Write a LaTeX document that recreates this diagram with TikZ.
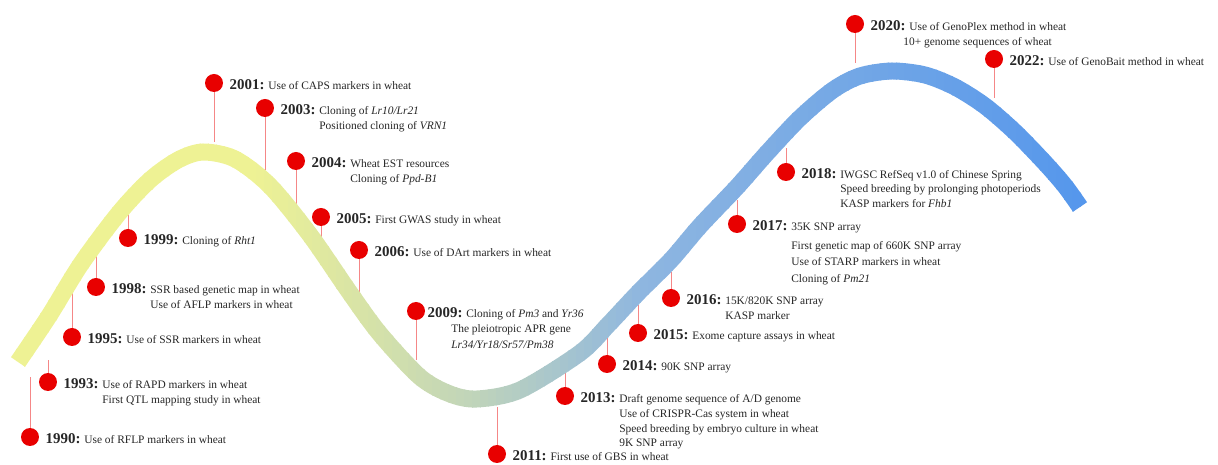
\documentclass[tikz,border=0pt]{standalone}
\usepackage{fontspec}
\setmainfont{Liberation Serif}
\usepackage{tikz}
\usepackage{xcolor}

\definecolor{dotred}{RGB}{232,0,0}
\definecolor{polered}{RGB}{245,135,135}
\definecolor{wyellow}{RGB}{238,242,148}
\definecolor{wgreen}{RGB}{192,212,186}
\definecolor{wblue}{RGB}{142,182,224}
\definecolor{wdeep}{RGB}{84,150,236}

\newcommand{\yr}[1]{{\fontsize{8.5}{10}\selectfont\bfseries #1:}}
\newcommand{\evlines}[1]{\begin{tabular}[t]{@{}l@{}}#1\end{tabular}}
\newcommand{\wavepath}{plot[smooth] coordinates {(18,362) (49,316) (81,264)
    (119,213) (150,180) (178,160) (203,152) (235,159) (270,186) (310,235)
    (350,293) (380,334) (420,377) (450,394) (477,399) (520,390) (580,353)
    (608,325) (638,293) (671,260) (700,226) (737,187) (767,153) (800,118)
    (833,90) (860,76) (892,71) (925,75) (955,87) (985,106) (1015,132)
    (1045,163) (1065,186) (1080,207)}}
% colour of the wave at x = #1
\newcommand{\wavecolour}[1]{%
  \ifdim#1pt<250pt \colorlet{bandc}{wyellow}\else
  \ifdim#1pt<470pt
    \pgfmathsetmacro{\bandmix}{(470-#1)/220*100}\colorlet{bandc}{wyellow!\bandmix!wgreen}\else
  \ifdim#1pt<640pt
    \pgfmathsetmacro{\bandmix}{(640-#1)/170*100}\colorlet{bandc}{wgreen!\bandmix!wblue}\else
    \pgfmathsetmacro{\bandmix}{max(0,(1090-#1)/450*100)}\colorlet{bandc}{wblue!\bandmix!wdeep}\fi\fi\fi}

\begin{document}
\begin{tikzpicture}[x=0.02cm, y=-0.02cm,
    dot/.style={circle, fill=dotred, minimum size=0.36cm, inner sep=0pt},
    pole/.style={draw=polered, line width=0.5pt},
    wave/.style={draw=bandc, line width=0.34cm},
    evt/.style={anchor=base west, inner sep=0pt, xshift=3.4pt, yshift=-3.7pt,
      text=black!85, font=\fontsize{6.5}{8.8}\selectfont}]
  \useasboundingbox (0,0) rectangle (1218,465);

  % dots and their stems
  \foreach \yy/\dx/\dy/\py in {1990/30/437/377, 1993/48/382/360, 1995/72/337/292,
      1998/96/287/253, 1999/128/238/207, 2001/214/83/142, 2003/265/108/170,
      2004/296/161/213, 2005/321/217/245, 2006/359/250/292, 2009/416/311/360,
      2011/497/454/407, 2013/565/396/370, 2014/607/364/337, 2015/638/333/305,
      2016/671/298/272, 2017/737/224/200, 2018/786/172/148, 2020/855/24/63,
      2022/994/59/98}{
    \node[dot] (d\yy) at (\dx,\dy) {};
    \coordinate (p\yy) at (\dx,\py);
    \draw[pole] (d\yy) -- (p\yy);
  }

  % the wave, coloured strip by strip
  \foreach \sx in {0,8,...,1096}{
    \wavecolour{\sx}
    \begin{scope}
      \clip (\sx,0) rectangle (\sx+9,465);
      \draw[wave] \wavepath;
    \end{scope}
  }

  % labels
  \node[evt] (t1990) at (d1990.east) {\yr{1990} Use of RFLP markers in wheat};
  \node[evt] (t1993) at (d1993.east) {\yr{1993} \evlines{Use of RAPD markers in wheat\\First QTL mapping study in wheat}};
  \node[evt] (t1995) at (d1995.east) {\yr{1995} Use of SSR markers in wheat};
  \node[evt] (t1998) at (d1998.east) {\yr{1998} \evlines{SSR based genetic map in wheat\\Use of AFLP markers in wheat}};
  \node[evt] (t1999) at (d1999.east) {\yr{1999} Cloning of \textit{Rht1}};
  \node[evt] (t2001) at (d2001.east) {\yr{2001} Use of CAPS markers in wheat};
  \node[evt] (t2003) at (d2003.east) {\yr{2003} \evlines{Cloning of \textit{Lr10/Lr21}\\Positioned cloning of \textit{VRN1}}};
  \node[evt] (t2004) at (d2004.east) {\yr{2004} \evlines{Wheat EST resources\\Cloning of \textit{Ppd-B1}}};
  \node[evt] (t2005) at (d2005.east) {\yr{2005} First GWAS study in wheat};
  \node[evt] (t2006) at (d2006.east) {\yr{2006} Use of DArt markers in wheat};
  \node[evt, xshift=-2.3pt] (t2009) at (d2009.east) {\yr{2009}\hspace{-8.5pt} \evlines{\hspace*{8.5pt}Cloning of \textit{Pm3} and \textit{Yr36}\\The pleiotropic APR gene\\\textit{Lr34/Yr18/Sr57/Pm38}}};
  \node[evt] (t2011) at (d2011.east) {\yr{2011} First use of GBS in wheat};
  \node[evt] (t2013) at (d2013.east) {\yr{2013} \evlines{Draft genome sequence of A/D genome\\[-0.4pt]Use of CRISPR-Cas system in wheat\\[-0.4pt]Speed breeding by embryo culture in wheat\\[-0.4pt]9K SNP array}};
  \node[evt] (t2014) at (d2014.east) {\yr{2014} 90K SNP array};
  \node[evt] (t2015) at (d2015.east) {\yr{2015} Exome capture assays in wheat};
  \node[evt] (t2016) at (d2016.east) {\yr{2016} \evlines{15K/820K SNP array\\KASP marker}};
  \node[evt] (t2017) at (d2017.east) {\yr{2017} \evlines{35K SNP array\\[2pt]First genetic map of 660K SNP array\\[0.6pt]Use of STARP markers in wheat\\[0.6pt]Cloning of \textit{Pm21}}};
  \node[evt] (t2018) at (d2018.east) {\yr{2018} \evlines{IWGSC RefSeq v1.0 of Chinese Spring\\[-0.6pt]Speed breeding by prolonging photoperiods\\[-0.6pt]KASP markers for \textit{Fhb1}}};
  \node[evt] (t2020) at (d2020.east) {\yr{2020}\hspace{-3.4pt} \evlines{\hspace*{3.4pt}Use of GenoPlex method in wheat\\10+ genome sequences of wheat}};
  \node[evt] (t2022) at (d2022.east) {\yr{2022} Use of GenoBait method in wheat};
\end{tikzpicture}
\end{document}
